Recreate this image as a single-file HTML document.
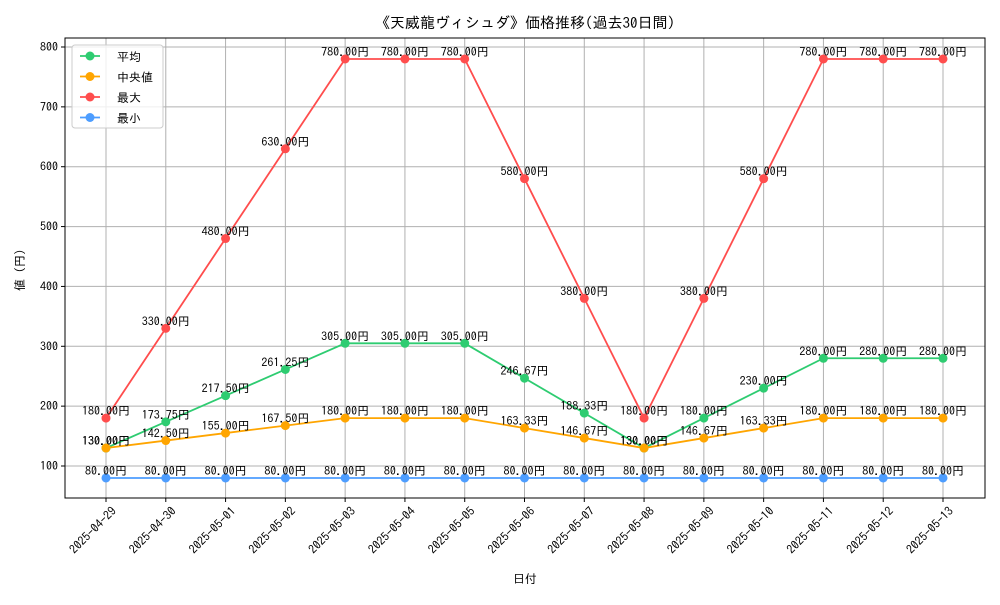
<!DOCTYPE html>
<html><head><meta charset="utf-8"><style>
body{margin:0;background:#fff;}
svg text{font-family:"IPAGothic","Noto Sans CJK JP",sans-serif;}
</style></head><body>
<svg id="chart" width="1000" height="600" xmlns="http://www.w3.org/2000/svg">
<rect width="1000" height="600" fill="#fff"/>
<text x="525" y="28" font-size="15" text-anchor="middle">《天威龍ヴィシュダ》価格推移(過去30日間)</text>
<g id="grid"></g><g id="axes"></g><g id="series"></g>
<text x="525" y="583" font-size="12" text-anchor="middle">日付</text>
<text x="24" y="270" font-size="12" text-anchor="middle" transform="rotate(-90 24 270)">値 (円)</text>
<g>
<rect x="72" y="45" width="91" height="83" rx="3" fill="#fff" fill-opacity="0.8" stroke="#ccc"/>
<g id="legend"></g>
</g>
</svg>
<script>
const dates=["2025-04-29","2025-04-30","2025-05-01","2025-05-02","2025-05-03","2025-05-04","2025-05-05","2025-05-06","2025-05-07","2025-05-08","2025-05-09","2025-05-10","2025-05-11","2025-05-12","2025-05-13"];
const avgVals=[130,173.75,217.5,261.25,305,305,305,246.67,188.33,130,180,230,280,280,280];
const medianVals=[130,142.5,155,167.5,180,180,180,163.33,146.67,130,146.67,163.33,180,180,180];
const maxVals=[180,330,480,630,780,780,780,580,380,180,380,580,780,780,780];
const minVals=[80,80,80,80,80,80,80,80,80,80,80,80,80,80,80];
const yTicks=[100,200,300,400,500,600,700,800];
const seriesNames=["平均","中央値","最大","最小"];
const NS="http://www.w3.org/2000/svg";
const L=65,R=985,T=38,B=498;
const x=i=>106+i*(943-106)/(dates.length-1);
const y=v=>466-(v-100)*(419/700);
function mk(tag,at,parent){const e=document.createElementNS(NS,tag);for(const k in at)e.setAttribute(k,at[k]);parent.appendChild(e);return e;}
const grid=document.getElementById('grid'),axes=document.getElementById('axes'),ser=document.getElementById('series'),leg=document.getElementById('legend');
dates.forEach((d,i)=>{
 const g=mk('line',{x1:x(i),x2:x(i),y1:T,y2:B,stroke:'#b0b0b0','stroke-width':1},grid);
 
 
 mk('line',{x1:x(i),x2:x(i),y1:B,y2:B+4,stroke:'#000'},axes);
 const t=mk('text',{x:x(i)+5,y:B+8,'font-size':12,'text-anchor':'end',transform:`rotate(-45 ${x(i)+5} ${B+8})`,dy:'0.7em'},axes);
 t.textContent=d;
 
 
});
yTicks.forEach(v=>{
 const g=mk('line',{x1:L,x2:R,y1:y(v),y2:y(v),stroke:'#b0b0b0','stroke-width':1},grid);
 
 
 mk('line',{x1:L-4,x2:L,y1:y(v),y2:y(v),stroke:'#000'},axes);
 const t=mk('text',{x:L-7,y:y(v)+4,'font-size':12,'text-anchor':'end'},axes);
 t.textContent=v;
 
 
});
const frame=mk('rect',{x:L,y:T,width:R-L,height:B-T,fill:'none',stroke:'#000','stroke-width':1},axes);


const all=[[avgVals,'#2ecc71','avg'],[medianVals,'#ffa500','median'],[maxVals,'#ff4d4d','max'],[minVals,'#4d9dff','min']];
all.forEach(([vals,c,n],si)=>{
 const g=mk('g',{},ser);
 
 
 const p=mk('polyline',{points:vals.map((v,i)=>x(i)+','+y(v)).join(' '),fill:'none',stroke:c,'stroke-width':1.8},g);
 
 
 vals.forEach((v,i)=>{
  const m=mk('circle',{cx:x(i),cy:y(v),r:4.5,fill:c},g);
  
  
  const t=mk('text',{x:x(i),y:y(v)-3,'font-size':12,'text-anchor':'middle'},g);
  t.textContent=v.toFixed(2)+'円';
  
  
 });
 const ly=56+si*20.5;
 mk('line',{x1:80,x2:100,y1:ly,y2:ly,stroke:c,'stroke-width':1.8},leg);
 mk('circle',{cx:90,cy:ly,r:4.5,fill:c},leg);
 const lt=mk('text',{x:117,y:ly+5,'font-size':12},leg);
 lt.textContent=seriesNames[si];
 
 
});
</script>
</body></html>
